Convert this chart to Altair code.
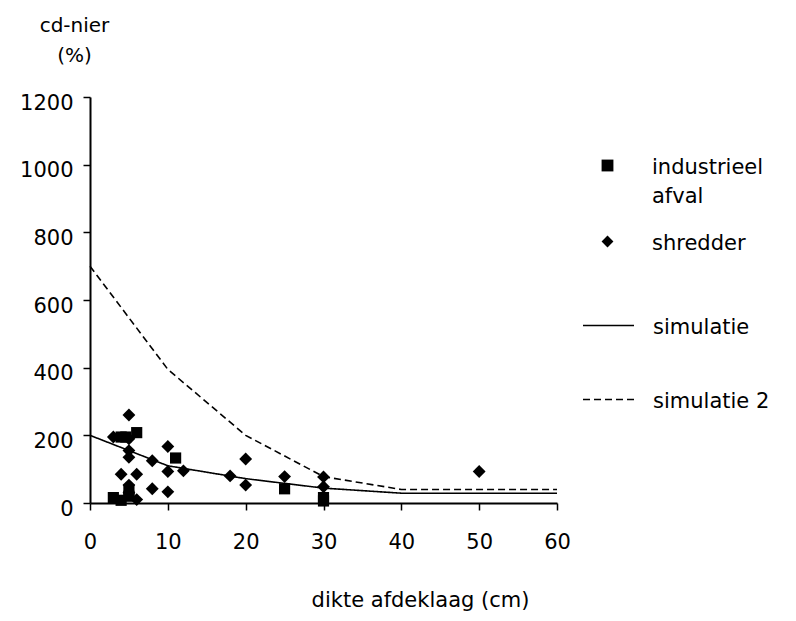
import altair as alt
import pandas as pd

# --- data ---
ind_x = [3, 4, 5, 5, 4, 4.6, 6, 11, 25, 30, 30]
ind_y = [16, 8, 38, 20, 195, 195, 208, 133, 42, 16, 6]

shr_x = [3, 5, 5, 5, 5, 4, 6, 5, 5, 6, 8, 8, 10, 10, 10, 12, 18, 20, 20, 25, 30, 30, 50]
shr_y = [195, 260, 190, 155, 135, 85, 85, 53, 30, 10, 125, 42, 167, 93, 33, 95, 80, 130, 53, 78, 77, 48, 93]

sim_x = [0, 10, 20, 30, 40, 50, 60]
sim1_y = [200, 110, 72, 44, 29, 29, 29]
sim2_y = [700, 395, 200, 78, 40, 40, 40]

x_ticks = [0, 10, 20, 30, 40, 50, 60]
y_ticks = [0, 200, 400, 600, 800, 1000, 1200]

pts = pd.concat([
    pd.DataFrame({"x": ind_x, "y": ind_y, "reeks": "industrieel afval", "vorm": "vierkant"}),
    pd.DataFrame({"x": shr_x, "y": shr_y, "reeks": "shredder", "vorm": "ruit"}),
])
lines = pd.concat([
    pd.DataFrame({"x": sim_x, "y": sim1_y, "sim": "simulatie"}),
    pd.DataFrame({"x": sim_x, "y": sim2_y, "sim": "simulatie 2"}),
])

FONT = "DejaVu Sans"

xenc = alt.X("x:Q", scale=alt.Scale(domain=[0, 60], nice=False),
             axis=alt.Axis(values=x_ticks, title="dikte afdeklaag (cm)", labelFlush=False,
                           titleX=330, titleAlign="center",
                           titleY=97, titleBaseline="middle"))
yenc = alt.Y("y:Q", scale=alt.Scale(domain=[0, 1200], nice=False),
             axis=alt.Axis(values=y_ticks, format="d", labelFlush=False, labelOffset=-2,
                           title=["cd-nier", "(%)"],
                           titleAngle=0, titleX=-16, titleY=-82,
                           titleBaseline="top", titleAlign="center",
                           titleFontSize=20, titleLineHeight=30))

line_layer = alt.Chart(lines).mark_line(color="black", strokeWidth=1.6).encode(
    x=xenc, y=yenc,
    strokeDash=alt.StrokeDash("sim:N",
        scale=alt.Scale(domain=["simulatie", "simulatie 2"], range=[[1, 0], [7, 4]]),
        legend=alt.Legend(orient="none", legendX=492, legendY=202, title=None,
                          symbolType="stroke", symbolSize=2601, symbolStrokeWidth=1.6,
                          symbolStrokeColor="black", labelOffset=18, rowPadding=35,
                          labelFontSize=21, labelFont=FONT, labelColor="black",
                          labelBaseline="alphabetic",
                          padding=0)),
)

pt_layer = alt.Chart(pts).mark_point(filled=True, color="black", opacity=1).encode(
    x=xenc, y=yenc,
    size=alt.Size("vorm:N",
        scale=alt.Scale(domain=["vierkant", "ruit"], range=[125, 165]),
        legend=None),
    shape=alt.Shape("reeks:N",
        scale=alt.Scale(domain=["industrieel afval", "shredder"], range=["square", "diamond"]),
        legend=alt.Legend(orient="none", legendX=507, legendY=58, title=None,
                          symbolSize=140, symbolFillColor="black", symbolStrokeColor="black",
                          symbolOpacity=1, labelOffset=34, rowPadding=24,
                          labelFontSize=21, labelFont=FONT, labelColor="black",
                          labelExpr="datum.label == 'industrieel afval' ? ['industrieel', 'afval'] : datum.label",
                          labelBaseline="alphabetic",
                          padding=0)),
)

chart = alt.layer(line_layer, pt_layer).properties(
    width=467, height=406,
    autosize=alt.AutoSizeParams(type="none"),
    padding={"left": 90, "top": 97, "right": 239, "bottom": 118},
).configure(
    style={"guide-label": {"dy": 8, "lineHeight": 29}}
).configure_view(stroke=None).configure_axis(
    grid=False, domainColor="black", domainWidth=2, tickColor="black", tickWidth=1.5,
    tickSize=7, labelFont=FONT, labelFontSize=21, labelColor="black",
    titleFont=FONT, titleFontSize=21, titleFontWeight="normal", titleColor="black",
).configure_axisX(labelPadding=13).configure_axisY(labelPadding=10)

chart.save("out.html", embed_options={"renderer": "svg", "actions": False})
